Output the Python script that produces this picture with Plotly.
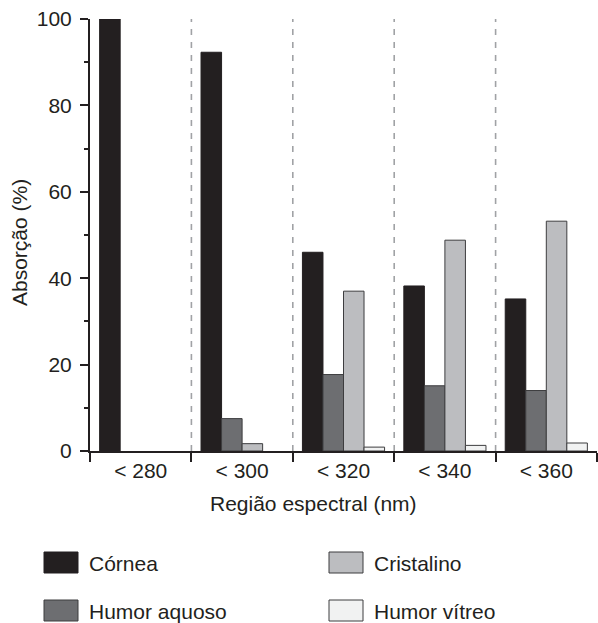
import plotly.graph_objects as go

categories = ["< 280", "< 300", "< 320", "< 340", "< 360"]
series_names = ["Córnea", "Humor aquoso", "Cristalino", "Humor vítreo"]
cornea = [100, 92.3, 46.0, 38.2, 35.2]
humor_aquoso = [0, 7.5, 17.7, 15.1, 14.0]
cristalino = [0, 1.7, 37.0, 48.8, 53.2]
humor_vitreo = [0, 0, 0.9, 1.3, 1.85]
y_ticks = [0, 20, 40, 60, 80, 100]

values = [cornea, humor_aquoso, cristalino, humor_vitreo]
colors = ["#231f20", "#6d6e71", "#bcbdc0", "#f1f2f2"]
line_colors = ["#231f20", "#3d3d3f", "#3d3d3f", "#3d3d3f"]
FONT = "Liberation Sans, Arial, sans-serif"
INK = "#231f20"

fig = go.Figure()
for name, vals, c, lc in zip(series_names, values, colors, line_colors):
    fig.add_trace(go.Bar(x=categories, y=vals, name=name,
                         marker=dict(color=c, line=dict(color=lc, width=[0 if v == 0 else 1 for v in vals])),
                         showlegend=False))

# dashed separators between categories
for i in range(len(categories) - 1):
    fig.add_shape(type="line", xref="x", yref="y", x0=i + 0.5, x1=i + 0.5, y0=0, y1=100,
                  line=dict(color="#a0a2a5", width=1.6, dash="6px,7px"), layer="below")

# manual legend (large swatches)
W, H = 598, 623
L, R, T, B = 90, 1, 19, 172
pw, ph = W - L - R, H - T - B
def px(x):
    return (x - L) / pw
def py(y):
    return (H - B - y) / ph

legend_pos = [(44, 552), (44, 600), (329, 552), (329, 600)]
for idx, (x0, y0) in enumerate(legend_pos):
    fig.add_shape(type="rect", xref="paper", yref="paper",
                  x0=px(x0), x1=px(x0 + 34), y0=py(y0), y1=py(y0 + 21),
                  fillcolor=colors[idx], line=dict(color=line_colors[idx], width=1))
    fig.add_annotation(xref="paper", yref="paper", x=px(x0 + 43), y=py(y0 + 11),
                       text=series_names[idx], showarrow=False, xanchor="left", yanchor="middle",
                       font=dict(family=FONT, size=21, color=INK))

# axis titles
fig.add_annotation(xref="paper", yref="paper", x=px(313.5), y=py(503), text="Região espectral (nm)",
                   showarrow=False, xanchor="center", yanchor="middle",
                   font=dict(family=FONT, size=21, color=INK))
fig.add_annotation(xref="paper", yref="paper", x=px(19), y=py(243), text="Absorção (%)", textangle=-90,
                   showarrow=False, xanchor="center", yanchor="middle",
                   font=dict(family=FONT, size=21, color=INK))

fig.update_layout(
    width=W, height=H,
    margin=dict(l=L, r=R, t=T, b=B),
    paper_bgcolor="white", plot_bgcolor="white",
    barmode="group", bargap=0.19, bargroupgap=0,
    font=dict(family=FONT, size=21, color=INK),
    xaxis=dict(type="category", range=[-0.5, 4.5], tickson="boundaries", ticks="outside", ticklen=9,
               tickwidth=2, tickcolor=INK, showline=True, linecolor=INK, linewidth=2, showgrid=False,
               tickfont=dict(family=FONT, size=21, color=INK)),
    yaxis=dict(range=[0, 100], tickvals=y_ticks, ticks="outside", ticklen=8, tickwidth=2, tickcolor=INK,
               showline=True, linecolor=INK, linewidth=2, showgrid=False, zeroline=False,
               ticklabelstandoff=4,
               minor=dict(dtick=10, ticks="outside", ticklen=4, tickwidth=2, tickcolor=INK),
               tickfont=dict(family=FONT, size=21, color=INK)),
)

fig.write_html("out.html", config={"displayModeBar": False},
               post_script="document.body.style.margin='0';document.body.style.padding='0';"
                           "document.body.style.overflow='hidden';")
